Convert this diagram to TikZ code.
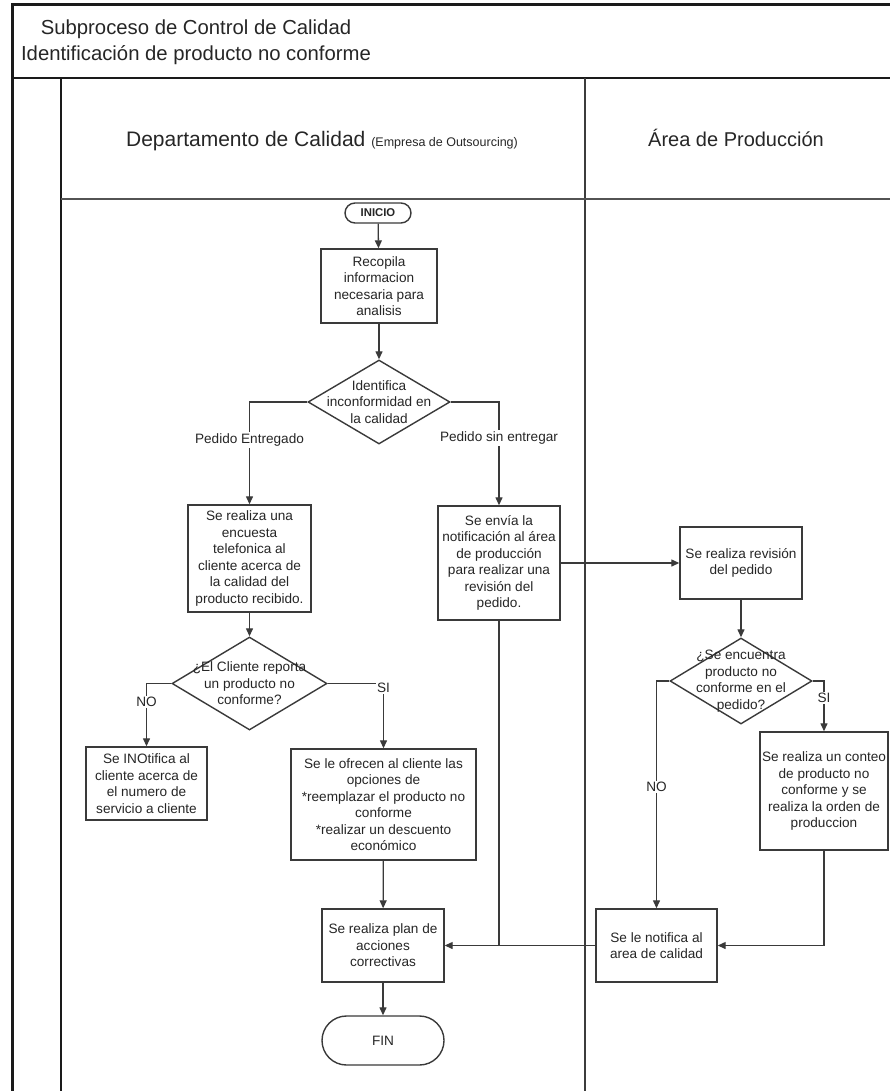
\documentclass[tikz,border=0pt]{standalone}
\usepackage{fontspec}
\setmainfont{Liberation Sans}
\usetikzlibrary{arrows.meta,shapes.geometric,shapes.misc}
\definecolor{ink}{HTML}{262626}
\definecolor{edge}{HTML}{3A3A3A}
\definecolor{frame}{HTML}{1A1A1A}
\begin{document}
\begin{tikzpicture}[x=1pt,y=-1pt,
  txt/.style={font=\fontsize{13.6}{16.5}\selectfont, text=ink, align=center, inner sep=0pt},
  proc/.style={draw=edge, line width=1.4pt, fill=white, inner sep=0pt, txt},
  term/.style={rounded rectangle, draw=edge, line width=1.4pt, fill=white, inner sep=0pt, txt},
  dec/.style={diamond, draw=edge, line width=1.4pt, fill=white, inner sep=0pt},
  flow/.style={draw=edge, line width=1.3pt, -{Triangle[length=8pt,width=7pt]}},
  link/.style={draw=edge, line width=1.3pt},
  lab/.style={txt, fill=white, inner sep=1.5pt}
]
\useasboundingbox (0,0) rectangle (890,1091);

% swimlane frame
\draw[frame, line width=3pt] (12,1100) -- (12,5) -- (900,5);
\draw[frame, line width=2.6pt] (12,78) -- (900,78);
\draw[frame, line width=2pt] (61,78) -- (61,1100);
\draw[frame!85, line width=2pt] (585,78) -- (585,1100);
\draw[frame!75, line width=2pt] (61,199) -- (900,199);

% titles
\node[txt, font=\fontsize{20.3}{26}\selectfont] (title) at (196,42)
  {Subproceso de Control de Calidad\\Identificación de producto no conforme};
\node[txt, anchor=base] (lane1) at (322,147)
  {\fontsize{21}{24}\selectfont Departamento de Calidad {\fontsize{12.5}{14}\selectfont (Empresa de Outsourcing)}};
\node[txt, anchor=base, font=\fontsize{20}{24}\selectfont] (lane2) at (736,147) {Área de Producción};

% quality department lane
\node[term, minimum width=66pt, minimum height=20pt, font=\bfseries\fontsize{11.3}{13}\selectfont] (ini) at (378,213) {INICIO};
\node[proc, minimum width=116pt, minimum height=74pt] (rec) at (379,286)
  {Recopila\\informacion\\necesaria para\\analisis};
\node[dec, minimum width=142pt, minimum height=84pt] (d1) at (379,402) {};
\node[txt] (d1t) at (d1) {Identifica\\inconformidad en\\la calidad};
\node[proc, minimum width=123pt, minimum height=107pt] (enc) at (249.5,558.5)
  {Se realiza una\\encuesta\\telefonica al\\cliente acerca de\\la calidad del\\producto recibido.};
\node[proc, minimum width=122pt, minimum height=114pt] (env) at (499,563)
  {Se envía la\\notificación al área\\de producción\\para realizar una\\revisión del\\pedido.};
\node[dec, minimum width=155pt, minimum height=93pt] (d2) at (249.5,683.5) {};
\node[txt] (d2t) at (d2) {¿El Cliente reporta\\un producto no\\conforme?};
\node[proc, minimum width=121pt, minimum height=73pt] (ino) at (146.5,783.5)
  {Se INOtifica al\\cliente acerca de\\el numero de\\servicio a cliente};
\node[proc, minimum width=185pt, minimum height=111pt] (ofr) at (383.5,804.5)
  {Se le ofrecen al cliente las\\opciones de\\*reemplazar el producto no\\conforme\\*realizar un descuento\\económico};
\node[proc, minimum width=122pt, minimum height=73pt] (plan) at (383,945.5)
  {Se realiza plan de\\acciones\\correctivas};
\node[term, minimum width=122pt, minimum height=49pt] (fin) at (383,1040.5) {FIN};

% production lane
\node[proc, minimum width=122pt, minimum height=72pt] (rev) at (741,563)
  {Se realiza revisión\\del pedido};
\node[dec, minimum width=142pt, minimum height=86pt] (d3) at (741,681) {};
\node[txt] (d3t) at (d3) {¿Se encuentra\\producto no\\conforme en el\\pedido?};
\node[proc, minimum width=128pt, minimum height=118pt] (con) at (824,791)
  {Se realiza un conteo\\de producto no\\conforme y se\\realiza la orden de\\produccion};
\node[proc, minimum width=121pt, minimum height=73pt] (ntf) at (656.5,945.5)
  {Se le notifica al\\area de calidad};

% connectors
\draw[flow] (ini) -- (rec);
\draw[flow] (rec) -- (d1);
\draw[flow] (d1.west) -| (enc.north);
\draw[flow] (d1.east) -| (env.north);
\draw[flow] (enc) -- (d2);
\draw[flow] (d2.west) -| (ino.north);
\draw[flow] (d2.east) -| (ofr.north);
\draw[flow] (ofr) -- (plan);
\draw[flow] (plan) -- (fin);
\draw[flow] (env.east) -- (rev.west);
\draw[flow] (rev) -- (d3);
\draw[flow] (d3.west) -| (ntf.north);
\draw[flow] (d3.east) -| (con.north);
\draw[flow] (con.south) |- (ntf.east);
\draw[flow] (ntf.west) -- (plan.east);
\draw[link] (env.south) -- (env.south |- plan.east);

% branch labels
\node[lab] (l1) at (249.5,440) {Pedido Entregado};
\node[lab] (l2) at (499,438) {Pedido sin entregar};
\node[lab] (l3) at (146.5,702) {NO};
\node[lab] (l4) at (383.5,688) {SI};
\node[lab] (l5) at (656.5,787) {NO};
\node[lab] (l6) at (824,698) {SI};
\end{tikzpicture}
\end{document}
